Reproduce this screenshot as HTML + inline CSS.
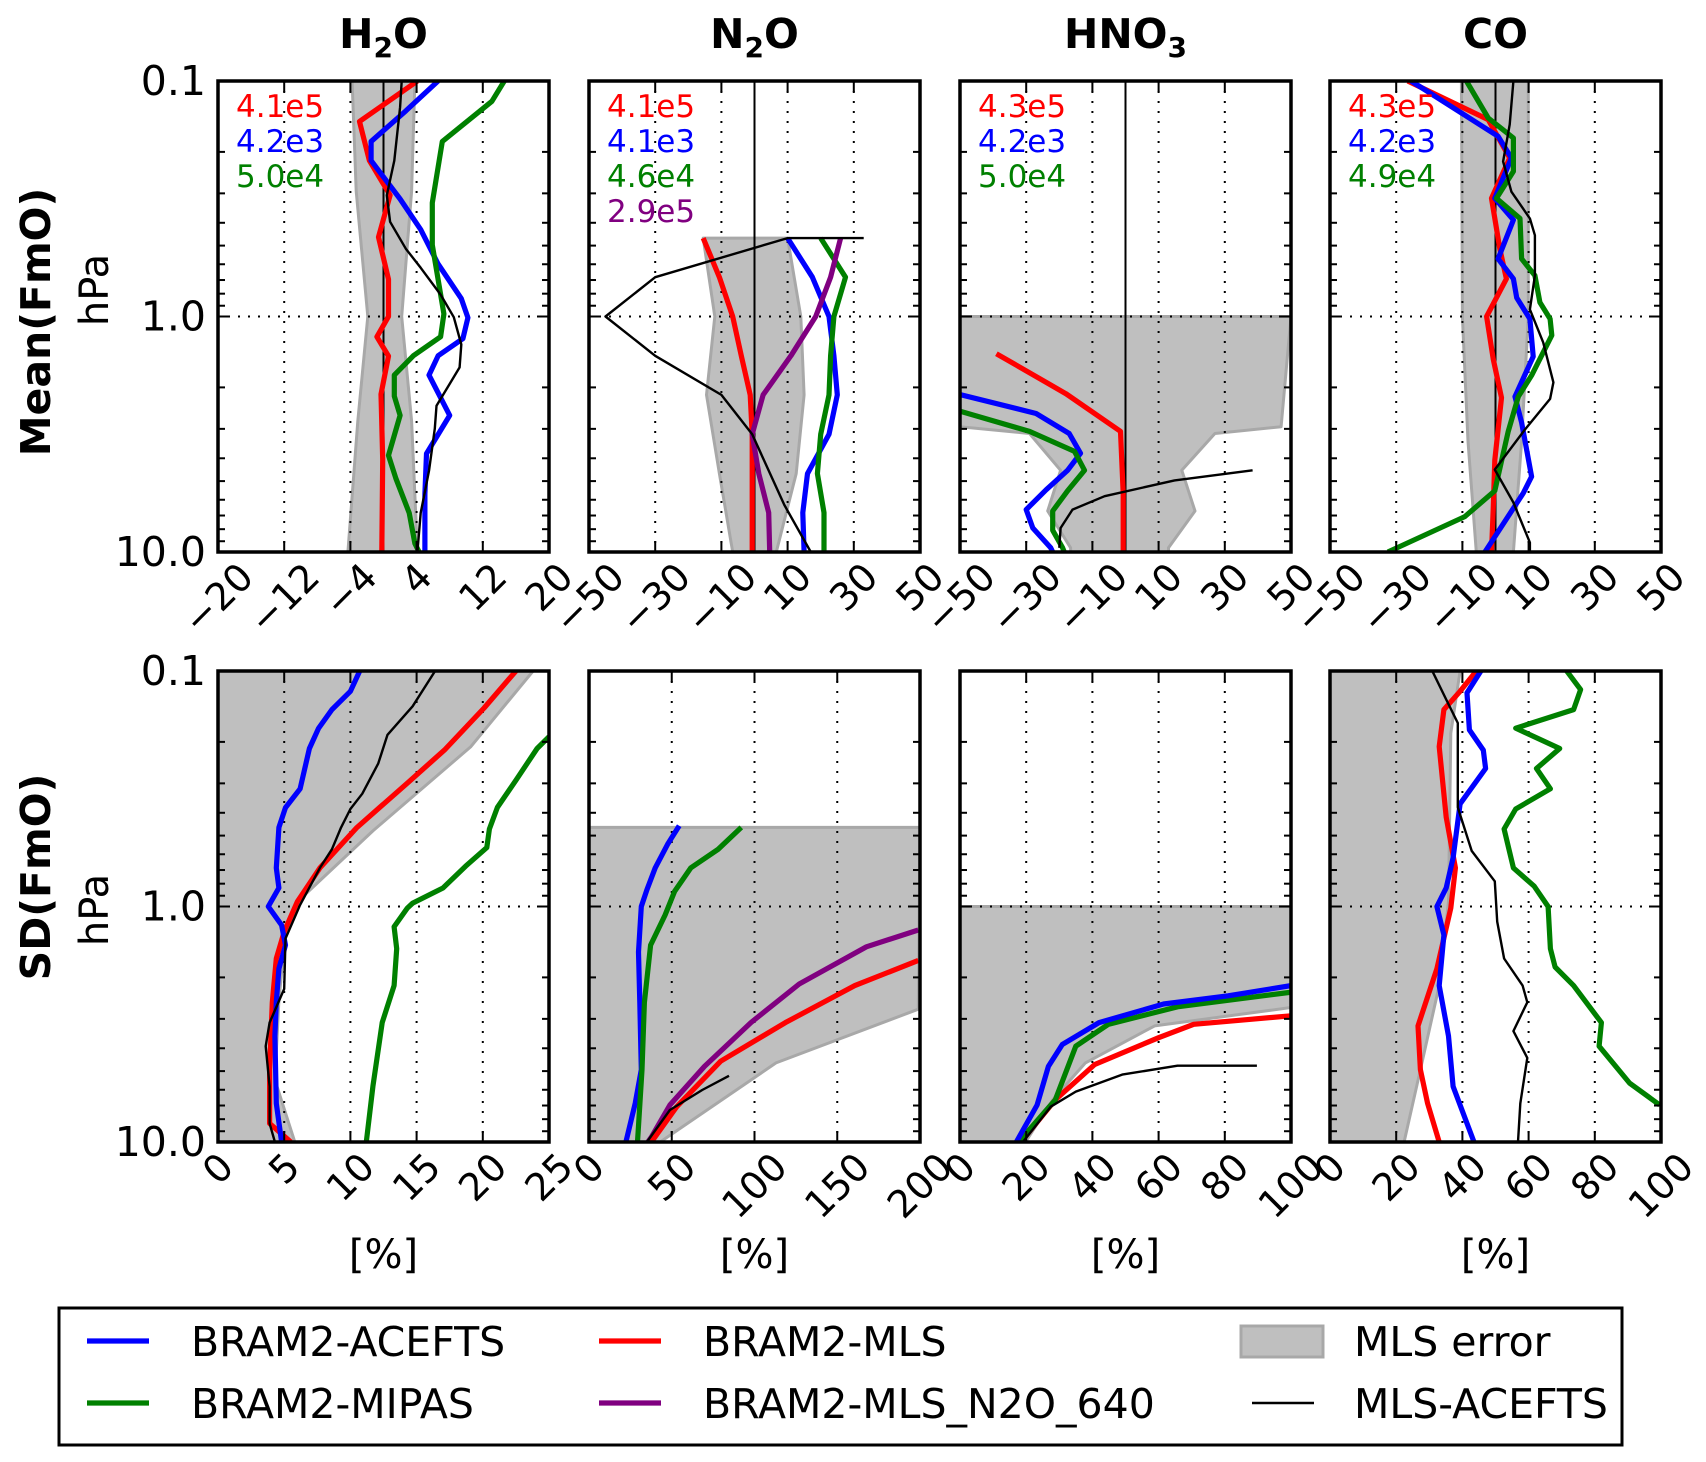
<!DOCTYPE html>
<html><head><meta charset="utf-8"><title>BRAM2 comparison profiles</title>
<style>
html,body{margin:0;padding:0;background:#fff;}
svg{display:block;font-family:"DejaVu Sans","Liberation Sans",sans-serif;}
</style></head>
<body>
<svg id="chart" xmlns="http://www.w3.org/2000/svg" width="1706" height="1462" viewBox="0 0 1706 1462"></svg>
<script>
// ---------- DATA (values in %, levels as log10 pressure in hPa) ----------
const h2oMeanRedP=[-1,-0.828,-0.662,-0.515,-0.337,-0.158,0,0.086,0.168,0.33,0.607,1];
const h2oMeanRed=[4.1,-2.9,-1.7,0.8,-0.6,0.6,0.6,-0.8,0.6,-0.3,-0.1,-0.2];
const h2oMeanBlueP=[-1,-0.873,-0.743,-0.662,-0.499,-0.369,-0.223,-0.076,0.005,0.094,0.167,0.249,0.42,0.582,0.753,0.9,1];
const h2oMeanBlue=[6.6,2.7,-1.5,-1.5,2,4.5,6.6,9.4,10.2,9.6,6.6,5.5,8,5.2,5,5,5];
const h2oMeanGreenP=[-1,-0.914,-0.743,-0.483,-0.304,-0.011,0.086,0.167,0.249,0.338,0.42,0.59,0.688,0.834,0.964,1];
const h2oMeanGreen=[14.6,13.1,7.1,5.9,5.9,7.3,6.9,3.6,1.3,1.3,2,0.6,1.5,3.1,3.8,4.3];
const h2oMeanBlackP=[-1,-0.889,-0.662,-0.515,-0.402,-0.288,-0.207,-0.093,0.003,0.119,0.216,0.379,0.476,0.655,0.834,1];
const h2oMeanBlack=[2.2,2,1.3,0.4,0.8,2.7,4.5,6.9,8.5,9.4,9.2,6.4,6.2,5.5,4.5,4.1];
const h2oMeanBandP=[-1,-0.532,0,0.444,1];
const h2oMeanBandLo=[-3.8,-3.3,-1.9,-3.1,-4.3];
const h2oMeanBandHi=[3.8,3.4,2.2,3.4,4.1];

const n2oMeanP=[-0.333,-0.167,0,0.167,0.333,0.5,0.667,0.833,1];
const n2oMeanRed=[-15.5,-10.6,-6.6,-4,-1.3,-0.7,-0.7,-0.7,-0.7];
const n2oMeanBlue=[10,17.5,22.5,24,25,22.5,16,14.6,15];
const n2oMeanGreen=[20,27.5,24,23,22.5,20,19,21,21];
const n2oMeanPurple=[26,23,18.5,11,2.6,-0.7,1.3,4.3,4.6];
const n2oMeanBlackP=[-0.333,-0.333,-0.167,0,0.167,0.333,0.5,0.8,1];
const n2oMeanBlack=[33,10,-30,-45,-30,-10,-0.7,9,17];
const n2oMeanBandP=[-0.333,0,0.333,0.667,1];
const n2oMeanBandLo=[-15.5,-12,-14.5,-10.6,-6.6];
const n2oMeanBandHi=[10,14,15,12.6,6.6];

const hno3MeanRedP=[0.158,0.328,0.488,0.75,1];
const hno3MeanRed=[-39,-18,-1.5,-0.7,-0.7];
const hno3MeanBlueP=[0.328,0.412,0.497,0.581,0.653,0.736,0.82,0.898,0.982,1];
const hno3MeanBlue=[-51,-27,-17,-13.6,-17.5,-24,-30,-28,-22.6,-22];
const hno3MeanGreenP=[0.398,0.488,0.573,0.653,0.74,0.826,0.908,0.982,1];
const hno3MeanGreen=[-51,-29,-15.4,-12.4,-17.5,-22,-22,-19,-18.5];
const hno3MeanBlackP=[0.653,0.696,0.763,0.82,0.898,0.982];
const hno3MeanBlack=[38.4,14.8,-6.3,-16,-19.6,-20];
const hno3MeanBandP=[0,0.468,0.497,0.653,0.826,0.982,1];
const hno3MeanBandLo=[-50,-50,-29,-19.6,-23.5,-16.6,-16.6];
const hno3MeanBandHi=[50,47,27,17,21,13,13];

const coMeanRedP=[-1,-0.836,-0.673,-0.502,-0.288,-0.16,0,0.18,0.345,0.61,0.82,1];
const coMeanRed=[-26.5,-2.2,4.3,-1.2,1.3,3.3,-2.7,-0.7,1.8,-0.2,-0.7,-1.2];
const coMeanBlueP=[-1,-0.765,-0.673,-0.502,-0.41,-0.245,-0.16,-0.08,0.01,0.17,0.34,0.45,0.68,0.75,1];
const coMeanBlue=[-25.5,0.8,4.8,-0.2,5.4,0.8,5.4,6.4,10.4,11.4,5.9,7.9,10.9,8.4,-3.2];
const coMeanGreenP=[-1,-0.843,-0.758,-0.616,-0.502,-0.416,-0.245,-0.174,-0.06,0.01,0.08,0.25,0.34,0.49,0.74,0.85,1];
const coMeanGreen=[-8.8,-2.2,5.4,5.4,0.3,7.4,7.9,11.9,13.4,16.5,17,10.9,6.9,3.8,-0.2,-9.3,-32.5];
const coMeanBlackP=[-1,-0.815,-0.658,-0.53,-0.416,-0.345,-0.174,-0.03,0.11,0.28,0.35,0.48,0.65,0.79,0.96,1];
const coMeanBlack=[5.4,4.3,2.3,4.8,10.4,11.9,11.9,10.4,14.4,17.5,16.5,8.9,-0.2,5.4,10.4,10.4];
const coMeanBandP=[-1,0,0.53,1];
const coMeanBandLo=[-10.3,-10,-8.3,-5.8];
const coMeanBandHi=[9.9,9.9,7.9,5.4];

const h2oSdBlueP=[-1,-0.914,-0.836,-0.757,-0.671,-0.5,-0.42,-0.336,-0.164,-0.079,0,0.079,0.164,0.264,0.407,0.55,0.836,1];
const h2oSdBlue=[10.7,10,8.6,7.6,6.9,6.2,5.1,4.6,4.4,4.6,3.8,4.8,5.1,4.6,4.4,4.3,4.4,4.8];
const h2oSdRedP=[-1,-0.843,-0.664,-0.529,-0.336,-0.164,-0.021,0.107,0.221,0.407,0.693,0.921,1];
const h2oSdRed=[22.5,20.1,17.1,14.4,10.5,7.7,6,5,4.4,4.1,3.9,3.9,5.5];
const h2oSdGreenP=[-0.721,-0.671,-0.536,-0.421,-0.329,-0.25,-0.171,-0.079,-0.014,0.007,0.086,0.179,0.336,0.493,0.764,1];
const h2oSdGreen=[25,24.1,22.5,21.1,20.5,20.3,18.7,17,14.7,14.3,13.3,13.5,13.3,12.4,11.7,11.2];
const h2oSdBlackP=[-1,-0.85,-0.729,-0.607,-0.479,-0.414,-0.336,-0.243,-0.164,-0.007,0.136,0.35,0.493,0.593,0.764,0.921,1];
const h2oSdBlack=[16.4,14.7,12.8,12.1,10.9,10,9.3,8.6,7.7,6.2,5.1,5,3.9,3.6,3.9,3.9,4.3];
const h2oSdBandP=[-1,-0.679,-0.321,-0.036,0.107,0.4,0.736,1];
const h2oSdBandHi=[23.8,19.1,11.7,6.3,5.1,4.6,4.3,5.8];

const n2oSdBlueP=[-0.343,-0.264,-0.164,-0.071,0,0.193,0.407,0.693,0.836,1];
const n2oSdBlue=[54.5,47.5,40,35,31.6,29.9,30.7,31.6,27.9,22.3];
const n2oSdGreenP=[-0.336,-0.243,-0.164,-0.064,0.036,0.164,0.407,0.693,1];
const n2oSdGreen=[92,78,61.5,51.7,46,37.2,33.5,32,29.3];
const n2oSdPurpleP=[0.1,0.171,0.329,0.493,0.679,0.843,0.979,1];
const n2oSdPurple=[199,167.6,127,97.8,69.8,48.9,37.7,35.5];
const n2oSdRedP=[0.229,0.336,0.493,0.657,0.85,1];
const n2oSdRed=[199,160.6,118.7,79.6,53,37.7];
const n2oSdBlackP=[0.719,0.779,0.864,1];
const n2oSdBlack=[84.6,68.4,48.9,35];
const n2oSdBandP=[-0.336,0.436,0.664,1];
const n2oSdBandHi=[200,199,113,43];

const hno3SdBlueP=[0.336,0.379,0.414,0.493,0.586,0.679,0.843,1];
const hno3SdBlue=[100,81,61.5,42,30.9,26.7,23.3,17];
const hno3SdGreenP=[0.364,0.426,0.5,0.593,0.821,1];
const hno3SdGreen=[100,65.7,44.8,35,28.8,17.7];
const hno3SdRedP=[0.464,0.5,0.557,0.671,0.821,1];
const hno3SdRed=[100,70.6,60,40.7,28.8,18.4];
const hno3SdBlackP=[0.676,0.676,0.714,0.786,0.85,1];
const hno3SdBlack=[89.7,65.7,49,35,27.4,19];
const hno3SdBandP=[0,0.429,0.507,0.664,0.821,1];
const hno3SdBandHi=[100,100,58.8,37.9,28,19.8];

const coSdRedP=[-1,-0.914,-0.836,-0.679,-0.379,-0.164,0.007,0.264,0.507,0.693,0.836,1];
const coSdRed=[44.2,39.3,34.4,33,35.1,37.9,36.5,32.3,26.6,27.3,29.5,33];
const coSdBlueP=[-1,-0.907,-0.75,-0.664,-0.586,-0.436,-0.207,-0.079,0,0.121,0.336,0.55,0.764,1];
const coSdBlue=[45.6,41.4,42.1,46.3,47,39.3,37.2,35.1,32.3,34.4,33,35.8,37.2,43.5];
const coSdGreenP=[-1,-0.921,-0.836,-0.757,-0.671,-0.586,-0.5,-0.414,-0.329,-0.164,-0.086,0,0.179,0.257,0.336,0.493,0.593,0.75,0.843];
const coSdGreen=[71.5,75.7,73.6,56.1,69.4,62.4,66.6,56.1,52.6,55.4,61.7,65.9,66.6,68,73.6,82,81.3,90.5,99.6];
const coSdBlackP=[-1,-0.879,-0.779,-0.421,-0.236,-0.107,0.064,0.221,0.336,0.407,0.529,0.643,0.836,1];
const coSdBlack=[30.9,35.1,38.6,38.6,42.8,49.8,50.5,52.6,58.2,59.6,55.4,59.6,57.5,56.8];
const coSdBandP=[-1,-0.736,-0.021,0.336,0.693,1];
const coSdBandHi=[39.3,36.5,35.8,33,27.3,22.4];

const ticksH2oMean=[-20,-12,-4,4,12,20];
const ticksMean50=[-50,-30,-10,10,30,50];
const ticksH2oSd=[0,5,10,15,20,25];
const ticksN2oSd=[0,50,100,150,200];
const ticksSd100=[0,20,40,60,80,100];
const yTickLabels=['0.1','1.0','10.0'];
const yTickLevels=[-1,0,1];
const annH2o=['4.1e5','4.2e3','5.0e4'];
const annN2o=['4.1e5','4.1e3','4.6e4','2.9e5'];
const annHno3=['4.3e5','4.2e3','5.0e4'];
const annCo=['4.3e5','4.2e3','4.9e4'];

// ---------- RENDER ----------
const NS='http://www.w3.org/2000/svg';
const svg=document.getElementById('chart');
function mk(tag,attrs,parent){const e=document.createElementNS(NS,tag);for(const k in attrs)e.setAttribute(k,attrs[k]);(parent||svg).appendChild(e);return e;}
const COLS=[218,589,960,1330], PW=331;
const ROWS=[81,671], PH=471;
const C={blue:'#0000ff',green:'#008000',red:'#ff0000',purple:'#800080',black:'#000000'};
const FS=38;
const LW=5.2, BW=2.4;

function digitsW(s,fs){let w=0;for(const ch of s){w+= ch==='−'?0.838: ch==='.'?0.318:0.636;}return w*fs;}
function fmt(v){return v<0?'−'+Math.abs(v):String(v);}

function makePanel(name,col,row,xmin,xmax,ticks){
  const L=COLS[col],T=ROWS[row];
  const g=mk('g',{});
  
  
  const xs=v=>L+(v-xmin)/(xmax-xmin)*PW;
  const ys=lp=>T+(lp+1)/2*PH;
  const cid='clip-'+name;
  const cp=mk('clipPath',{id:cid},g);
  mk('rect',{x:L,y:T,width:PW,height:PH},cp);
  const plot=mk('g',{'clip-path':'url(#'+cid+')'},g);
  return {g,plot,xs,ys,L,T,ticks,name};
}
function drawBand(p,P,lo,hi){
  let pts=[];
  for(let i=0;i<P.length;i++){const lv=lo?lo[i]:null;pts.push((lv===null?p.L-5:p.xs(lv)).toFixed(1)+','+p.ys(P[i]).toFixed(1));}
  for(let i=P.length-1;i>=0;i--)pts.push(p.xs(hi[i]).toFixed(1)+','+p.ys(P[i]).toFixed(1));
  const el=mk('polygon',{points:pts.join(' '),fill:'#bfbfbf',stroke:'#a8a8a8','stroke-width':3,'stroke-linejoin':'round'},p.plot);
  
  
}
function drawLine(p,P,vals,color,w,nm){
  const pts=vals.map((v,i)=>p.xs(v).toFixed(1)+','+p.ys(P[i]).toFixed(1)).join(' ');
  const el=mk('polyline',{points:pts,fill:'none',stroke:color,'stroke-width':w,'stroke-linejoin':'round'},p.plot);
  
  
}
function drawGrid(p){
  for(const t of p.ticks){const x=p.xs(t);
    const gl=mk('line',{x1:x,y1:p.T,x2:x,y2:p.T+PH,stroke:'#000','stroke-width':2,'stroke-dasharray':'2,8'},p.plot);
    
    }
  const y=p.ys(0);
  const hl=mk('line',{x1:p.L,y1:y,x2:p.L+PW,y2:y,stroke:'#000','stroke-width':2,'stroke-dasharray':'2,8'},p.plot);
  
  
}
function drawZero(p){
  const x=p.xs(0);
  const z=mk('line',{x1:x,y1:p.T,x2:x,y2:p.T+PH,stroke:'#000','stroke-width':2},p.plot);
  
  
}
function drawFrame(p,rowIdx){
  const L=p.L,T=p.T,B=T+PH,R=L+PW;
  for(const t of p.ticks){const x=p.xs(t);
    mk('line',{x1:x,y1:B,x2:x,y2:B-11,stroke:'#000','stroke-width':2},p.g);
    mk('line',{x1:x,y1:T,x2:x,y2:T+11,stroke:'#000','stroke-width':2},p.g);
    const s=fmt(t);const w=digitsW(s,FS);const h=(w+FS*0.75)*0.707;
    const cx=x, cy=B+8+h/2;
    const tl=mk('text',{x:0,y:0,'font-size':FS,'text-anchor':'middle','dominant-baseline':'central',transform:'translate('+cx.toFixed(1)+','+cy.toFixed(1)+') rotate(-45)'},p.g);
    tl.textContent=s;
    
    
  }
  for(let d=-1;d<1;d++){
    for(let k=1;k<=10;k++){const lp=d+Math.log10(k);const y=p.ys(lp);const len=(k===1||k===10)?12:7;
      mk('line',{x1:L,y1:y,x2:L+len,y2:y,stroke:'#000','stroke-width':2},p.g);
      mk('line',{x1:R,y1:y,x2:R-len,y2:y,stroke:'#000','stroke-width':2},p.g);}
  }
  const fr=mk('rect',{x:L,y:T,width:PW,height:PH,fill:'none',stroke:'#000','stroke-width':3.5},p.g);
  
  
  if(rowIdx===1){
    const xl=mk('text',{x:L+PW/2,y:1268,'font-size':40,'text-anchor':'middle'},p.g);
    xl.textContent='[%]';
    
    
  }
}
function annot(p,labels,colors){
  labels.forEach((s,i)=>{
    const t=mk('text',{x:p.L+18,y:p.T+36+i*35,'font-size':31,fill:colors[i]},p.g);
    t.textContent=s;
    
    
  });
}

const p1=makePanel('h2o-mean',0,0,-20,20,ticksH2oMean);
drawBand(p1,h2oMeanBandP,h2oMeanBandLo,h2oMeanBandHi);drawGrid(p1);drawZero(p1);
drawLine(p1,h2oMeanRedP,h2oMeanRed,C.red,LW,'bram2-mls-line');
drawLine(p1,h2oMeanBlueP,h2oMeanBlue,C.blue,LW,'bram2-acefts-line');
drawLine(p1,h2oMeanGreenP,h2oMeanGreen,C.green,LW,'bram2-mipas-line');
drawLine(p1,h2oMeanBlackP,h2oMeanBlack,C.black,BW,'mls-acefts-line');
drawFrame(p1,0);annot(p1,annH2o,[C.red,C.blue,C.green]);

const p2=makePanel('n2o-mean',1,0,-50,50,ticksMean50);
drawBand(p2,n2oMeanBandP,n2oMeanBandLo,n2oMeanBandHi);drawGrid(p2);drawZero(p2);
drawLine(p2,n2oMeanP,n2oMeanRed,C.red,LW,'bram2-mls-line');
drawLine(p2,n2oMeanP,n2oMeanBlue,C.blue,LW,'bram2-acefts-line');
drawLine(p2,n2oMeanP,n2oMeanGreen,C.green,LW,'bram2-mipas-line');
drawLine(p2,n2oMeanP,n2oMeanPurple,C.purple,LW,'bram2-mls-n2o-640-line');
drawLine(p2,n2oMeanBlackP,n2oMeanBlack,C.black,BW,'mls-acefts-line');
drawFrame(p2,0);annot(p2,annN2o,[C.red,C.blue,C.green,C.purple]);

const p3=makePanel('hno3-mean',2,0,-50,50,ticksMean50);
drawBand(p3,hno3MeanBandP,hno3MeanBandLo,hno3MeanBandHi);drawGrid(p3);drawZero(p3);
drawLine(p3,hno3MeanRedP,hno3MeanRed,C.red,LW,'bram2-mls-line');
drawLine(p3,hno3MeanBlueP,hno3MeanBlue,C.blue,LW,'bram2-acefts-line');
drawLine(p3,hno3MeanGreenP,hno3MeanGreen,C.green,LW,'bram2-mipas-line');
drawLine(p3,hno3MeanBlackP,hno3MeanBlack,C.black,BW,'mls-acefts-line');
drawFrame(p3,0);annot(p3,annHno3,[C.red,C.blue,C.green]);

const p4=makePanel('co-mean',3,0,-50,50,ticksMean50);
drawBand(p4,coMeanBandP,coMeanBandLo,coMeanBandHi);drawGrid(p4);drawZero(p4);
drawLine(p4,coMeanRedP,coMeanRed,C.red,LW,'bram2-mls-line');
drawLine(p4,coMeanBlueP,coMeanBlue,C.blue,LW,'bram2-acefts-line');
drawLine(p4,coMeanGreenP,coMeanGreen,C.green,LW,'bram2-mipas-line');
drawLine(p4,coMeanBlackP,coMeanBlack,C.black,BW,'mls-acefts-line');
drawFrame(p4,0);annot(p4,annCo,[C.red,C.blue,C.green]);

const q1=makePanel('h2o-sd',0,1,0,25,ticksH2oSd);
drawBand(q1,h2oSdBandP,null,h2oSdBandHi);drawGrid(q1);
drawLine(q1,h2oSdRedP,h2oSdRed,C.red,LW,'bram2-mls-line');
drawLine(q1,h2oSdBlueP,h2oSdBlue,C.blue,LW,'bram2-acefts-line');
drawLine(q1,h2oSdGreenP,h2oSdGreen,C.green,LW,'bram2-mipas-line');
drawLine(q1,h2oSdBlackP,h2oSdBlack,C.black,BW,'mls-acefts-line');
drawFrame(q1,1);

const q2=makePanel('n2o-sd',1,1,0,200,ticksN2oSd);
drawBand(q2,n2oSdBandP,null,n2oSdBandHi);drawGrid(q2);
drawLine(q2,n2oSdBlueP,n2oSdBlue,C.blue,LW,'bram2-acefts-line');
drawLine(q2,n2oSdGreenP,n2oSdGreen,C.green,LW,'bram2-mipas-line');
drawLine(q2,n2oSdPurpleP,n2oSdPurple,C.purple,LW,'bram2-mls-n2o-640-line');
drawLine(q2,n2oSdRedP,n2oSdRed,C.red,LW,'bram2-mls-line');
drawLine(q2,n2oSdBlackP,n2oSdBlack,C.black,BW,'mls-acefts-line');
drawFrame(q2,1);

const q3=makePanel('hno3-sd',2,1,0,100,ticksSd100);
drawBand(q3,hno3SdBandP,null,hno3SdBandHi);drawGrid(q3);
drawLine(q3,hno3SdRedP,hno3SdRed,C.red,LW,'bram2-mls-line');
drawLine(q3,hno3SdGreenP,hno3SdGreen,C.green,LW,'bram2-mipas-line');
drawLine(q3,hno3SdBlueP,hno3SdBlue,C.blue,LW,'bram2-acefts-line');
drawLine(q3,hno3SdBlackP,hno3SdBlack,C.black,BW,'mls-acefts-line');
drawFrame(q3,1);

const q4=makePanel('co-sd',3,1,0,100,ticksSd100);
drawBand(q4,coSdBandP,null,coSdBandHi);drawGrid(q4);
drawLine(q4,coSdRedP,coSdRed,C.red,LW,'bram2-mls-line');
drawLine(q4,coSdBlueP,coSdBlue,C.blue,LW,'bram2-acefts-line');
drawLine(q4,coSdGreenP,coSdGreen,C.green,LW,'bram2-mipas-line');
drawLine(q4,coSdBlackP,coSdBlack,C.black,BW,'mls-acefts-line');
drawFrame(q4,1);

for(const r of ROWS){
  yTickLevels.forEach((lp,i)=>{
    const t=mk('text',{x:COLS[0]-12,y:r+(lp+1)/2*PH,'font-size':41,'text-anchor':'end','dominant-baseline':'central'});
    t.textContent=yTickLabels[i];
    
    
  });
}

// titles, row labels, legend
const titles=[['H','2','O'],['N','2','O'],['HNO','3',''],['CO','','']];
const names=['h2o-title','n2o-title','hno3-title','co-title'];
titles.forEach((t,i)=>{
  const el=mk('text',{x:COLS[i]+PW/2,y:48,'font-size':41,'font-weight':'bold','text-anchor':'middle'});
  
  
  el.innerHTML=t[0]+(t[1]?'<tspan font-size="28" dy="9">'+t[1]+'</tspan><tspan dy="-9">'+t[2]+'</tspan>':'');
});
const r1=mk('text',{transform:'translate(50,322) rotate(-90)','font-size':41,'font-weight':'bold','text-anchor':'middle'});
r1.textContent='Mean(FmO)';


const h1=mk('text',{transform:'translate(108,290) rotate(-90)','font-size':40,'text-anchor':'middle'});
h1.textContent='hPa';


const r2=mk('text',{transform:'translate(50,877) rotate(-90)','font-size':41,'font-weight':'bold','text-anchor':'middle'});
r2.textContent='SD(FmO)';


const h2=mk('text',{transform:'translate(108,910) rotate(-90)','font-size':40,'text-anchor':'middle'});
h2.textContent='hPa';



const lg=mk('rect',{x:59,y:1308,width:1563,height:137,fill:'#fff',stroke:'#000','stroke-width':3});


const entries=[
 {t:'BRAM2-ACEFTS',c:'#0000ff',x:87,tx:191,y:1341,k:'line',w:LW},
 {t:'BRAM2-MIPAS',c:'#008000',x:87,tx:191,y:1403,k:'line',w:LW},
 {t:'BRAM2-MLS',c:'#ff0000',x:599,tx:703,y:1341,k:'line',w:LW},
 {t:'BRAM2-MLS_N2O_640',c:'#800080',x:599,tx:703,y:1403,k:'line',w:LW},
 {t:'MLS error',c:'#bfbfbf',x:1241,tx:1354,y:1341,k:'patch'},
 {t:'MLS-ACEFTS',c:'#000',x:1252,tx:1354,y:1403,k:'line',w:BW}
];
entries.forEach(e=>{
  if(e.k==='patch'){
    const pr=mk('rect',{x:e.x,y:e.y-15,width:82,height:31,fill:'#bfbfbf',stroke:'#a8a8a8','stroke-width':3});
    
    
  }else{
    const ln=mk('line',{x1:e.x,y1:e.y,x2:e.x+62,y2:e.y,stroke:e.c,'stroke-width':e.w});
    
    
  }
  const t=mk('text',{x:e.tx,y:e.y+15,'font-size':41});
  t.textContent=e.t;
  
  
});
</script>
</body></html>
